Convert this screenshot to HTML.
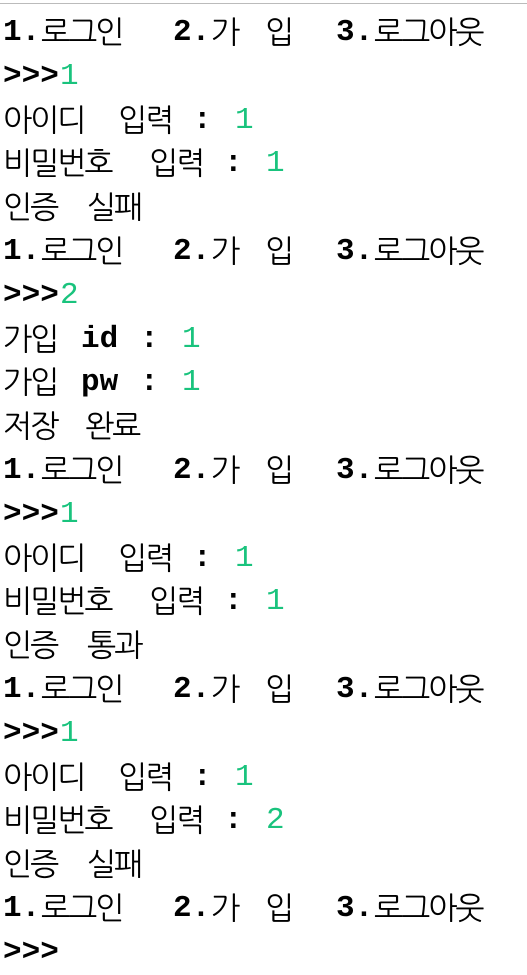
<!DOCTYPE html>
<html><head><meta charset="utf-8"><style>
body{margin:0;width:527px;height:972px;background:#fff;overflow:hidden;position:relative;font-family:"Liberation Mono","NanumGothic",monospace;color:#000}
.topbar{position:absolute;left:0;top:0;width:527px;height:3px;border-bottom:1px solid #bbb}
.l{position:absolute;left:0;height:44px;width:527px}
.l span{position:absolute;top:0;line-height:44px;white-space:pre}
.e{font-size:31px;font-weight:bold}
.k{font-family:"NanumGothic","Noto Sans CJK KR",sans-serif;font-size:31px;letter-spacing:-2px}
.g{color:#19c37d;font-weight:normal}
</style></head><body>
<div class="topbar"></div>
<div id="c"></div>
<script>
const L=[
 [[3,'e','1.'],[41,'k','로그인'],[173,'e','2.'],[211,'k','가'],[265,'k','입'],[336,'e','3.'],[374,'k','로그아웃']],
 [[3,'e','>>>'],[60,'e g','1']],
 [[3,'k','아이디'],[118,'k','입력'],[193,'e',':'],[235,'e g','1']],
 [[3,'k','비밀번호'],[149,'k','입력'],[224,'e',':'],[266,'e g','1']],
 [[3,'k','인증'],[87,'k','실패']],
 [[3,'e','1.'],[41,'k','로그인'],[173,'e','2.'],[211,'k','가'],[265,'k','입'],[336,'e','3.'],[374,'k','로그아웃']],
 [[3,'e','>>>'],[60,'e g','2']],
 [[3,'k','가입'],[81,'e','id'],[140,'e',':'],[182,'e g','1']],
 [[3,'k','가입'],[81,'e','pw'],[140,'e',':'],[182,'e g','1']],
 [[3,'k','저장'],[85,'k','완료']],
 [[3,'e','1.'],[41,'k','로그인'],[173,'e','2.'],[211,'k','가'],[265,'k','입'],[336,'e','3.'],[374,'k','로그아웃']],
 [[3,'e','>>>'],[60,'e g','1']],
 [[3,'k','아이디'],[118,'k','입력'],[193,'e',':'],[235,'e g','1']],
 [[3,'k','비밀번호'],[149,'k','입력'],[224,'e',':'],[266,'e g','1']],
 [[3,'k','인증'],[87,'k','통과']],
 [[3,'e','1.'],[41,'k','로그인'],[173,'e','2.'],[211,'k','가'],[265,'k','입'],[336,'e','3.'],[374,'k','로그아웃']],
 [[3,'e','>>>'],[60,'e g','1']],
 [[3,'k','아이디'],[118,'k','입력'],[193,'e',':'],[235,'e g','1']],
 [[3,'k','비밀번호'],[149,'k','입력'],[224,'e',':'],[266,'e g','2']],
 [[3,'k','인증'],[87,'k','실패']],
 [[3,'e','1.'],[41,'k','로그인'],[173,'e','2.'],[211,'k','가'],[265,'k','입'],[336,'e','3.'],[374,'k','로그아웃']],
 [[3,'e','>>>']]
];
const c=document.getElementById('c');
L.forEach((line,i)=>{
 const d=document.createElement('div');
 d.className='l';
 d.style.top=(11+43.8*i)+'px';
 
 
 line.forEach(t=>{
  const s=document.createElement('span');
  s.className=t[1];
  s.style.left=t[0]+'px';
  s.textContent=t[2];
  
  
  d.appendChild(s);
 });
 c.appendChild(d);
});
</script>
</body></html>
